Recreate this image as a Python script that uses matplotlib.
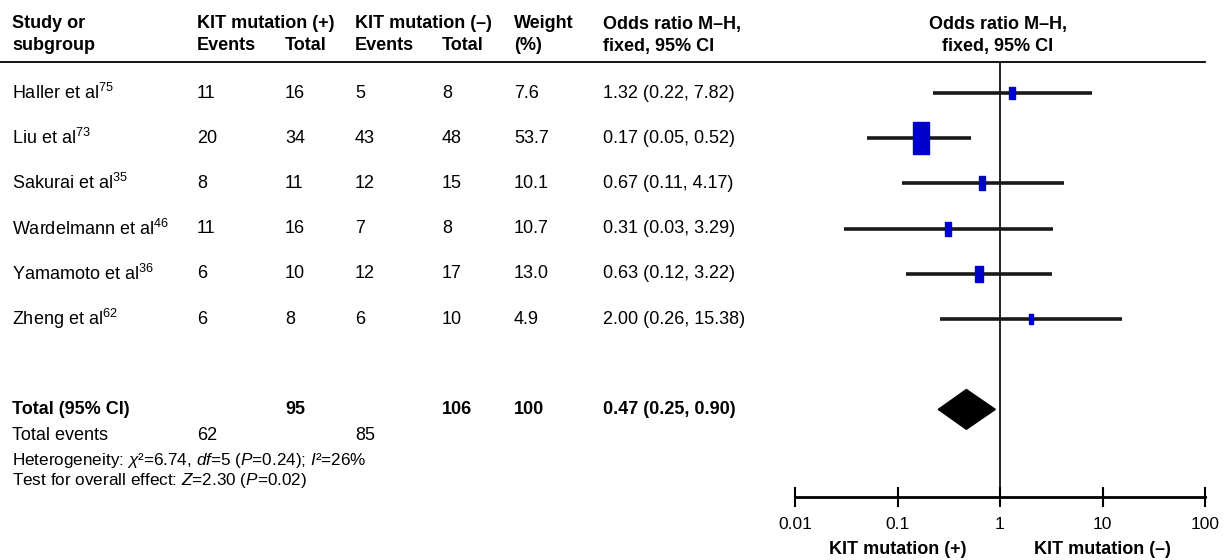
import matplotlib.pyplot as plt
import matplotlib.transforms as mtransforms
import numpy as np

plt.rcParams['font.family'] = ['Liberation Sans', 'DejaVu Sans']
plt.rcParams['mathtext.fontset'] = 'custom'
plt.rcParams['mathtext.rm'] = 'Liberation Sans'
plt.rcParams['mathtext.it'] = 'Liberation Sans:italic'
plt.rcParams['mathtext.bf'] = 'Liberation Sans:bold'

# data
studies = ["Haller et al$^{75}$", "Liu et al$^{73}$", "Sakurai et al$^{35}$",
           "Wardelmann et al$^{46}$", "Yamamoto et al$^{36}$", "Zheng et al$^{62}$"]
pos_events = [11, 20, 8, 11, 6, 6]
pos_total = [16, 34, 11, 16, 10, 8]
neg_events = [5, 43, 12, 7, 12, 6]
neg_total = [8, 48, 15, 8, 17, 10]
weights = [7.6, 53.7, 10.1, 10.7, 13.0, 4.9]
odds = [1.32, 0.17, 0.67, 0.31, 0.63, 2.00]
ci_low = [0.22, 0.05, 0.11, 0.03, 0.12, 0.26]
ci_high = [7.82, 0.52, 4.17, 3.29, 3.22, 15.38]
total_or, total_lo, total_hi = 0.47, 0.25, 0.90
total_pos, total_neg = 95, 106
events_pos, events_neg = 62, 85
xticks = [0.01, 0.1, 1, 10, 100]
xtick_labels = ["0.01", "0.1", "1", "10", "100"]

W, H = 1228, 560
FS = 13    # body text
HFS = 13   # bold header text
fig = plt.figure(figsize=(W / 100, H / 100), dpi=100)

def fx(px):
    return px / W

def fy(py):
    return 1 - py / H

# forest axes: bottom spine at y=497, top at header line y=62
ax = fig.add_axes([fx(795), fy(497), fx(1205) - fx(795), fy(62) - fy(497)])
ax.set_xscale('log')
ax.set_xlim(0.01, 100)
row_gap = 45.2
ax.set_ylim((497 - 93) / row_gap, (62 - 93) / row_gap)
for s in ['top', 'left', 'right']:
    ax.spines[s].set_visible(False)
ax.spines['bottom'].set_linewidth(2)
ax.set_yticks([])
ax.set_xticks(xticks)
ax.set_xticklabels(xtick_labels)
ax.minorticks_off()
ax.tick_params(axis='x', direction='inout', length=15, width=1.5, labelsize=12.5, pad=7)

ax.axvline(1, color='black', lw=1.2)

rows = np.arange(len(studies))
ax.hlines(rows, ci_low, ci_high, color='#1a1a1a', lw=2.6, zorder=2)
box = [(-0.5, -1), (0.5, -1), (0.5, 1), (-0.5, 1), (-0.5, -1)]
for r, o, w in zip(rows, odds, weights):
    ax.plot(o, r, marker=box, markersize=22.5 * np.sqrt(w / max(weights)),
            color='#0000cc', mec='#0000cc', zorder=3)

total_row = len(studies) + 1
ax.fill([total_lo, total_or, total_hi, total_or],
        [total_row, total_row - 0.44, total_row, total_row + 0.44],
        color='black', zorder=3)

fig.text(fx(898), fy(550), "KIT mutation (+)", ha='center', va='center',
         fontsize=HFS, fontweight='bold')
fig.text(fx(1102), fy(550), "KIT mutation (\u2013)", ha='center', va='center',
         fontsize=HFS, fontweight='bold')

# header
fig.add_artist(plt.Line2D([0, fx(1205)], [fy(62), fy(62)], color='black', lw=1.3))
hdr = dict(fontsize=HFS, fontweight='bold', va='center', ha='left')
y1, y2 = fy(24), fy(46)
fig.text(fx(12), y1, "Study or", **hdr)
fig.text(fx(12), y2, "subgroup", **hdr)
fig.text(fx(197), y1, "KIT mutation (+)", **hdr)
fig.text(fx(197), y2, "Events", **hdr)
fig.text(fx(285), y2, "Total", **hdr)
fig.text(fx(355), y1, "KIT mutation (\u2013)", **hdr)
fig.text(fx(355), y2, "Events", **hdr)
fig.text(fx(442), y2, "Total", **hdr)
fig.text(fx(514), y1, "Weight", **hdr)
fig.text(fx(514), y2, "(%)", **hdr)
fig.text(fx(603), y1, "Odds ratio M\u2013H,", **hdr)
fig.text(fx(603), y2, "fixed, 95% CI", **hdr)
fig.text(fx(998), y1, "Odds ratio M\u2013H,", fontsize=HFS, fontweight='bold',
         va='center', ha='center')
fig.text(fx(998), y2, "fixed, 95% CI", fontsize=HFS, fontweight='bold',
         va='center', ha='center')

# table rows aligned to forest rows
tr = mtransforms.blended_transform_factory(fig.transFigure, ax.transData)
cols = [12, 197, 285, 355, 442, 514, 603]
for r in rows:
    vals = [studies[r], pos_events[r], pos_total[r], neg_events[r], neg_total[r],
            f"{weights[r]:.1f}", f"{odds[r]:.2f} ({ci_low[r]:.2f}, {ci_high[r]:.2f})"]
    for c, v in zip(cols, vals):
        fig.text(fx(c), r, str(v), transform=tr, fontsize=FS, va='center', ha='left')

bold = dict(fontsize=HFS, fontweight='bold', va='center', ha='left', transform=tr)
fig.text(fx(12), total_row, "Total (95% CI)", **bold)
fig.text(fx(285), total_row, str(total_pos), **bold)
fig.text(fx(442), total_row, str(total_neg), **bold)
fig.text(fx(514), total_row, "100", **bold)
fig.text(fx(603), total_row, f"{total_or:.2f} ({total_lo:.2f}, {total_hi:.2f})", **bold)

fig.text(fx(12), fy(435), "Total events", fontsize=FS, va='center')
fig.text(fx(197), fy(435), str(events_pos), fontsize=FS, va='center')
fig.text(fx(355), fy(435), str(events_neg), fontsize=FS, va='center')
fig.text(fx(12), fy(465), "Heterogeneity: $\\chi$\u00b2=6.74, $df$=5 ($P$=0.24); $I$\u00b2=26%",
         fontsize=12.3, va='baseline')
fig.text(fx(12), fy(485), "Test for overall effect: $Z$=2.30 ($P$=0.02)",
         fontsize=12.3, va='baseline')

fig.savefig("out.png", dpi=100)
